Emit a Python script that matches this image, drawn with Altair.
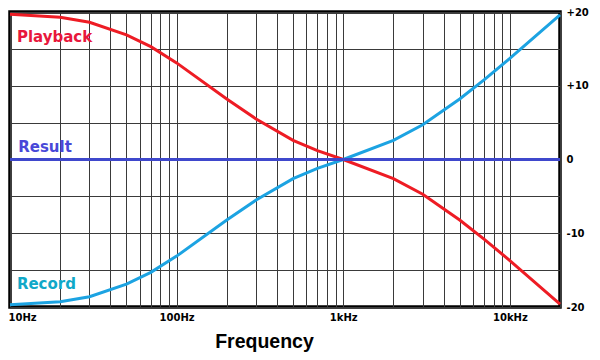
import altair as alt
import pandas as pd

# Frequencies (Hz) and response (dB)
freqs = [10, 20, 30, 50, 70, 100, 200, 300, 500, 700, 1000, 2000, 3000, 5000, 7000, 10000, 20000]
playback_db = [19.7, 19.3, 18.6, 16.9, 15.3, 13.1, 8.2, 5.5, 2.6, 1.2, 0.0, -2.6, -4.7, -8.2, -10.8, -13.7, -19.6]
record_db = [-19.7, -19.3, -18.6, -16.9, -15.3, -13.1, -8.2, -5.5, -2.6, -1.2, 0.0, 2.6, 4.7, 8.2, 10.8, 13.7, 19.6]
result_freqs = [10, 20000]
result_db = [0, 0]

grid_freqs = [10, 20, 30, 40, 50, 60, 70, 80, 90,
              100, 200, 300, 400, 500, 600, 700, 800, 900,
              1000, 2000, 3000, 4000, 5000, 6000, 7000, 8000, 9000,
              10000, 20000]
grid_db = [-20, -15, -10, -5, 0, 5, 10, 15, 20]

label_names = ["Playback", "Result", "Record"]
label_freq = [11.0, 11.2, 11.0]
label_db = [15.95, 1.0, -17.6]
label_colors = ["#e8173c", "#4848d8", "#10a8c8"]

series_colors = {"Playback": "#ee1c24", "Record": "#1ca3e2", "Result": "#3f48cc"}

curves = pd.DataFrame(
    {"f": freqs * 2 + result_freqs,
     "db": playback_db + record_db + result_db,
     "series": ["Playback"] * len(freqs) + ["Record"] * len(freqs) + ["Result"] * len(result_freqs),
     "order": [1] * len(freqs) + [0] * len(freqs) + [2] * len(result_freqs)}
)
labels = pd.DataFrame({"name": label_names, "f": label_freq, "db": label_db, "color": label_colors})

x_scale = alt.Scale(type="log", domain=[10, 20000], nice=False)
y_scale = alt.Scale(domain=[-20, 20], nice=False, zero=False)

x_label_expr = ("datum.value == 10 ? '10Hz' : datum.value == 100 ? '100Hz' : "
                "datum.value == 1000 ? '1kHz' : datum.value == 10000 ? '10kHz' : ''")
y_label_expr = ("datum.value % 10 == 0 ? (datum.value > 0 ? '+' + datum.value : '' + datum.value) : ''")

x_axis = alt.Axis(values=grid_freqs, labelExpr=x_label_expr, title="Frequency",
                  labelOverlap=False, labelFlush=True, labelFlushOffset=2,
                  grid=True, gridColor="#3a3a3a", gridWidth=1, gridOpacity=1,
                  domain=False, ticks=False, labelPadding=5,
                  labelFont="DejaVu Sans", labelFontWeight="bold", labelFontSize=10,
                  labelColor="#000000",
                  titleFont="Liberation Sans", titleFontWeight="bold", titleFontSize=19.5,
                  titleColor="#000000", titleAlign="center", titleAnchor="start",
                  titleX=254, titleY=40, titleBaseline="alphabetic")
y_axis = alt.Axis(orient="right", values=grid_db, labelExpr=y_label_expr, title=None,
                  grid=True, gridColor="#3a3a3a", gridWidth=1, gridOpacity=1,
                  domain=False, ticks=False, labelPadding=6, labelAlign="left",
                  labelFont="DejaVu Sans", labelFontWeight="bold", labelFontSize=10,
                  labelColor="#000000")

lines = alt.Chart(curves).mark_line(strokeWidth=3, interpolate="linear").encode(
    x=alt.X("f:Q", scale=x_scale, axis=x_axis),
    y=alt.Y("db:Q", scale=y_scale, axis=y_axis),
    color=alt.Color("series:N", scale=alt.Scale(domain=list(series_colors.keys()),
                                                range=list(series_colors.values())), legend=None),
    order=alt.Order("order:Q"),
    detail="series:N",
)

texts = alt.Chart(labels).mark_text(
    align="left", baseline="alphabetic", font="DejaVu Sans", fontWeight="bold", fontSize=15
).encode(
    x=alt.X("f:Q", scale=x_scale, axis=x_axis),
    y=alt.Y("db:Q", scale=y_scale, axis=y_axis),
    text="name:N",
    color=alt.Color("color:N", scale=None),
)

chart = alt.layer(lines, texts).properties(
    width=550, height=295,
    autosize=alt.AutoSizeParams(type="none"),
    padding={"left": 2, "top": 4, "right": 32, "bottom": 45},
    background="#ffffff",
).configure_view(
    stroke="#000000", strokeWidth=3.5
)

chart.save("out.html", embed_options={"renderer": "svg", "actions": False})
